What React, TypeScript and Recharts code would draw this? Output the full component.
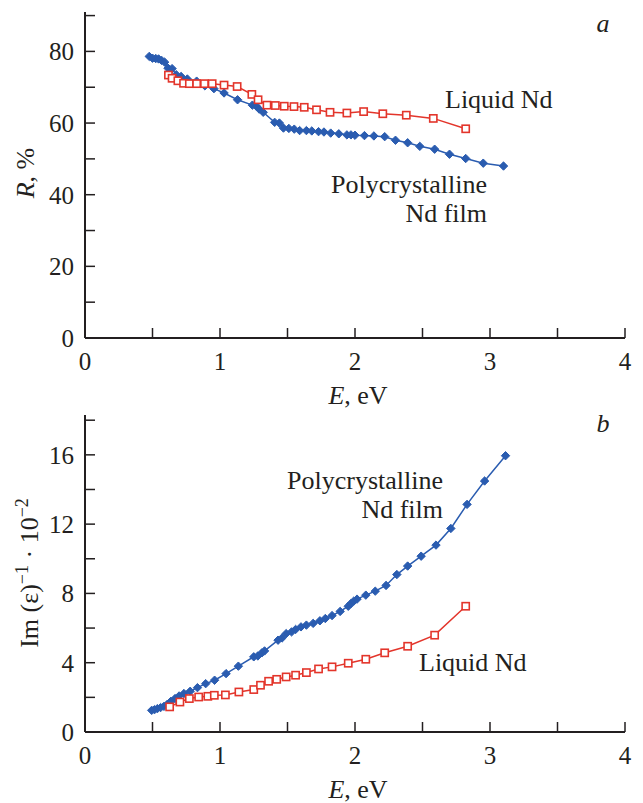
import React from 'react';
import { LineChart, Line, XAxis, YAxis } from 'recharts';

// ---- Panel a: reflectance R, % ----
const polyR_E = [0.476, 0.5, 0.524, 0.545, 0.567, 0.59, 0.615, 0.645, 0.676, 0.712, 0.758, 0.827, 0.888, 0.955, 1.03, 1.13, 1.24, 1.27, 1.29, 1.32, 1.405, 1.44, 1.47, 1.51, 1.55, 1.59, 1.64, 1.68, 1.73, 1.77, 1.82, 1.88, 1.94, 1.97, 2.0, 2.07, 2.14, 2.22, 2.3, 2.39, 2.48, 2.59, 2.7, 2.82, 2.95, 3.1];
const polyR = [78.6, 78.1, 78.0, 77.9, 77.5, 77.0, 75.3, 75.2, 73.5, 73.0, 72.3, 71.7, 70.4, 69.6, 68.4, 66.5, 65.0, 64.7, 63.9, 63.0, 60.2, 60.0, 58.6, 58.5, 58.3, 57.9, 57.9, 57.8, 57.6, 57.5, 57.2, 57.0, 56.7, 56.7, 56.6, 56.5, 56.4, 56.2, 55.2, 54.5, 53.5, 52.7, 51.3, 50.1, 48.8, 48.0];
const liqR_E = [0.618, 0.645, 0.688, 0.73, 0.773, 0.827, 0.885, 0.942, 1.03, 1.127, 1.236, 1.282, 1.348, 1.41, 1.476, 1.548, 1.624, 1.715, 1.815, 1.94, 2.064, 2.206, 2.38, 2.58, 2.82];
const liqR = [73.4, 72.5, 71.8, 71.1, 71.0, 71.0, 71.0, 71.0, 70.6, 70.2, 68.0, 66.5, 65.0, 64.9, 64.7, 64.6, 64.4, 63.7, 63.0, 62.8, 63.2, 62.6, 62.2, 61.3, 58.4];

// ---- Panel b: Im(eps)^-1 * 10^-2 ----
const polyIm_E = [0.494, 0.515, 0.536, 0.56, 0.585, 0.61, 0.636, 0.667, 0.697, 0.733, 0.779, 0.833, 0.894, 0.96, 1.045, 1.136, 1.25, 1.28, 1.31, 1.33, 1.43, 1.46, 1.49, 1.53, 1.56, 1.6, 1.64, 1.69, 1.74, 1.78, 1.83, 1.89, 1.95, 1.97, 1.99, 2.015, 2.08, 2.15, 2.23, 2.31, 2.39, 2.49, 2.6, 2.71, 2.83, 2.96, 3.115];
const polyIm = [1.25, 1.29, 1.35, 1.41, 1.48, 1.6, 1.77, 1.93, 2.08, 2.22, 2.35, 2.56, 2.79, 2.99, 3.37, 3.8, 4.34, 4.39, 4.57, 4.68, 5.3, 5.43, 5.68, 5.78, 5.92, 6.07, 6.17, 6.27, 6.42, 6.55, 6.72, 6.96, 7.26, 7.42, 7.55, 7.67, 7.9, 8.13, 8.46, 9.09, 9.58, 10.15, 10.79, 11.75, 13.14, 14.49, 15.95];
const liqIm_E = [0.627, 0.703, 0.773, 0.842, 0.91, 0.958, 1.04, 1.14, 1.25, 1.3, 1.36, 1.42, 1.49, 1.56, 1.64, 1.73, 1.83, 1.95, 2.08, 2.22, 2.39, 2.59, 2.82];
const liqIm = [1.45, 1.73, 1.93, 2.02, 2.06, 2.12, 2.14, 2.31, 2.45, 2.7, 2.93, 3.04, 3.18, 3.28, 3.43, 3.64, 3.76, 3.97, 4.2, 4.57, 4.95, 5.59, 7.26];

// ---- ticks ----
const xTicks = [0, 0.5, 1, 1.5, 2, 2.5, 3, 3.5, 4];
const xTickLabels = [0, 1, 2, 3, 4];
const yTicksA = [0, 10, 20, 30, 40, 50, 60, 70, 80, 90];
const yTickLabelsA = [0, 20, 40, 60, 80];
const yTicksB = [0, 2, 4, 6, 8, 10, 12, 14, 16, 18];
const yTickLabelsB = [0, 4, 8, 12, 16];

const zip = (xs: number[], ys: number[]) => xs.map((E, i) => ({ E, v: ys[i] }));

const BLUE = '#2a5cb0';
const RED = '#e3352b';
const INK = '#231f20';
const FONT = "'Liberation Serif', 'DejaVu Serif', 'Times New Roman', serif";

const Diamond = (props: any) => {
  const { cx, cy, index } = props;
  if (cx == null || cy == null) return null;
  const s = 4.2;
  return (
    <polygon
      key={`d-${index}`}
      points={`${cx},${cy - s} ${cx + s},${cy} ${cx},${cy + s} ${cx - s},${cy}`}
      fill={BLUE}
      stroke={BLUE}
      strokeWidth={1}
    />
  );
};

const Square = (props: any) => {
  const { cx, cy, index } = props;
  if (cx == null || cy == null) return null;
  const s = 3.6;
  return (
    <rect key={`s-${index}`} x={cx - s} y={cy - s} width={2 * s} height={2 * s} fill="#fff" stroke={RED} strokeWidth={1.6} />
  );
};

const tickStyle = { fontSize: 25, fill: INK, style: { fontFamily: FONT } };

const fmt = (labels: number[]) => (v: number) => (labels.includes(v) ? String(v) : '');

function Panel({
  height,
  marginTop,
  marginBottom,
  yDomain,
  yTicks,
  yLabels,
  poly,
  liq,
}: {
  height: number;
  marginTop: number;
  marginBottom: number;
  yDomain: [number, number];
  yTicks: number[];
  yLabels: number[];
  poly: { E: number; v: number }[];
  liq: { E: number; v: number }[];
}) {
  return (
    <LineChart width={643} height={height} margin={{ top: marginTop, right: 18, left: 25, bottom: marginBottom }} style={{ fontFamily: FONT }}>
      <XAxis
        type="number"
        dataKey="E"
        domain={[0, 4]}
        ticks={xTicks}
        interval={0}
        tickFormatter={fmt(xTickLabels)}
        tick={tickStyle}
        tickSize={-10}
        tickMargin={24}
        height={30}
        axisLine={{ stroke: INK, strokeWidth: 2 }}
        tickLine={{ stroke: INK, strokeWidth: 1.5 }}
        allowDataOverflow
      />
      <YAxis
        type="number"
        domain={yDomain}
        ticks={yTicks}
        interval={0}
        tickFormatter={fmt(yLabels)}
        tick={tickStyle}
        tickSize={-10}
        tickMargin={21}
        width={60}
        axisLine={{ stroke: INK, strokeWidth: 2 }}
        tickLine={{ stroke: INK, strokeWidth: 1.5 }}
        allowDataOverflow
      />
      <Line
        data={poly}
        dataKey="v"
        type="linear"
        stroke={BLUE}
        strokeWidth={1.5}
        dot={Diamond}
        activeDot={false}
        isAnimationActive={false}
      />
      <Line
        data={liq}
        dataKey="v"
        type="linear"
        stroke={RED}
        strokeWidth={1.5}
        dot={Square}
        activeDot={false}
        isAnimationActive={false}
      />
    </LineChart>
  );
}

export default function App() {
  const annot = { fontSize: 26, fill: INK, style: { fontFamily: FONT } } as const;
  const title = { fontSize: 26, fill: INK, style: { fontFamily: FONT } } as const;
  return (
    <div style={{ position: 'absolute', left: 0, top: 0, width: 643, height: 803, background: '#fff', fontFamily: FONT }}>
      <div style={{ position: 'absolute', left: 0, top: 0 }}>
        <Panel
          height={400}
          marginTop={12}
          marginBottom={32}
          yDomain={[0, 91]}
          yTicks={yTicksA}
          yLabels={yTickLabelsA}
          poly={zip(polyR_E, polyR)}
          liq={zip(liqR_E, liqR)}
        />
      </div>
      <div style={{ position: 'absolute', left: 0, top: 400 }}>
        <Panel
          height={403}
          marginTop={15}
          marginBottom={41}
          yDomain={[0, 18.3]}
          yTicks={yTicksB}
          yLabels={yTickLabelsB}
          poly={zip(polyIm_E, polyIm)}
          liq={zip(liqIm_E, liqIm)}
        />
      </div>
      <svg width={643} height={803} style={{ position: 'absolute', left: 0, top: 0, pointerEvents: 'none', fontFamily: FONT }}>
        {/* panel a */}
        <text x={603} y={32} textAnchor="middle" fontStyle="italic" {...annot}>a</text>
        <text x={445} y={108} {...annot}>Liquid Nd</text>
        <text x={487} y={193} textAnchor="end" {...annot}>Polycrystalline</text>
        <text x={487} y={222} textAnchor="end" {...annot}>Nd film</text>
        <text transform="translate(34,173) rotate(-90)" textAnchor="middle" {...title}>
          <tspan fontStyle="italic">R</tspan>, %
        </text>
        <text x={358} y={404} textAnchor="middle" {...title}>
          <tspan fontStyle="italic">E</tspan>, eV
        </text>
        {/* panel b */}
        <text x={603} y={432} textAnchor="middle" fontStyle="italic" {...annot}>b</text>
        <text x={443} y={489} textAnchor="end" {...annot}>Polycrystalline</text>
        <text x={443} y={518} textAnchor="end" {...annot}>Nd film</text>
        <text x={419} y={671} {...annot}>Liquid Nd</text>
        <text transform="translate(38,573) rotate(-90)" textAnchor="middle" {...title}>
          Im (ε)<tspan dy={-10} fontSize={18}>−1</tspan>
          <tspan dy={10}> · 10</tspan>
          <tspan dy={-10} fontSize={18}>−2</tspan>
        </text>
        <text x={358} y={798} textAnchor="middle" {...title}>
          <tspan fontStyle="italic">E</tspan>, eV
        </text>
      </svg>
    </div>
  );
}
